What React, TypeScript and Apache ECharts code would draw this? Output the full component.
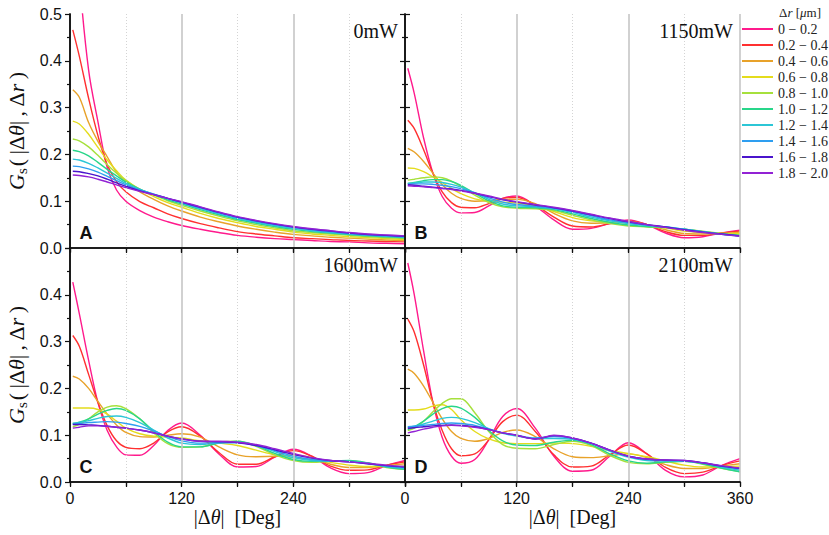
import React, { useEffect, useRef } from "react";
import * as echarts from "echarts";

// Angular separation |Δθ| in degrees (shared sample positions)
const DEG = [3, 10, 20, 30, 40, 50, 60, 75, 90, 105, 120, 140, 160, 180, 200, 220, 240, 260, 280, 300, 320, 340, 360];

const RANGES = ["0 − 0.2", "0.2 − 0.4", "0.4 − 0.6", "0.6 − 0.8", "0.8 − 1.0", "1.0 − 1.2", "1.2 − 1.4", "1.4 − 1.6", "1.6 − 1.8", "1.8 − 2.0"];
const COLORS = ["#ff1a8c", "#ff3030", "#e8a22a", "#e4dc1c", "#a6e03c", "#28d68a", "#2cc6d6", "#2e9ef0", "#4a14cc", "#9222d4"];

const PANEL_TITLES = ["0mW", "1150mW", "1600mW", "2100mW"];
const PANEL_LETTERS = ["A", "B", "C", "D"];
const X_TICKS = [0, 120, 240, 360];
const Y_TICKS = [0, 0.1, 0.2, 0.3, 0.4, 0.5];

// Panel A — 0 mW
const A0 = [0.80, 0.58, 0.38, 0.27, 0.172, 0.124, 0.1, 0.08, 0.066, 0.056, 0.048, 0.04, 0.033, 0.027, 0.023, 0.02, 0.018, 0.016, 0.014, 0.013, 0.011, 0.01, 0.009];
const A1 = [0.466, 0.41, 0.32, 0.24, 0.178, 0.142, 0.12, 0.099, 0.086, 0.073, 0.063, 0.052, 0.043, 0.035, 0.03, 0.026, 0.022, 0.02, 0.018, 0.016, 0.015, 0.014, 0.013];
const A2 = [0.338, 0.322, 0.268, 0.228, 0.195, 0.162, 0.14, 0.12, 0.104, 0.09, 0.079, 0.066, 0.056, 0.047, 0.04, 0.034, 0.029, 0.026, 0.023, 0.021, 0.019, 0.017, 0.016];
const A3 = [0.271, 0.265, 0.243, 0.215, 0.188, 0.165, 0.145, 0.125, 0.11, 0.097, 0.087, 0.074, 0.063, 0.054, 0.046, 0.04, 0.034, 0.03, 0.027, 0.024, 0.022, 0.02, 0.018];
const A4 = [0.233, 0.229, 0.216, 0.198, 0.178, 0.16, 0.144, 0.126, 0.113, 0.101, 0.091, 0.079, 0.068, 0.058, 0.05, 0.043, 0.037, 0.033, 0.03, 0.027, 0.024, 0.022, 0.02];
const A5 = [0.209, 0.206, 0.197, 0.183, 0.168, 0.154, 0.141, 0.126, 0.114, 0.103, 0.094, 0.082, 0.071, 0.061, 0.053, 0.046, 0.04, 0.035, 0.032, 0.029, 0.026, 0.024, 0.022];
const A6 = [0.19, 0.188, 0.181, 0.171, 0.16, 0.149, 0.138, 0.125, 0.115, 0.105, 0.096, 0.084, 0.073, 0.063, 0.055, 0.048, 0.042, 0.037, 0.033, 0.03, 0.027, 0.025, 0.023];
const A7 = [0.175, 0.174, 0.169, 0.162, 0.153, 0.144, 0.135, 0.124, 0.115, 0.106, 0.097, 0.086, 0.075, 0.065, 0.057, 0.05, 0.044, 0.039, 0.035, 0.031, 0.028, 0.026, 0.024];
const A8 = [0.164, 0.163, 0.159, 0.154, 0.147, 0.139, 0.132, 0.122, 0.114, 0.106, 0.098, 0.087, 0.076, 0.066, 0.058, 0.051, 0.045, 0.04, 0.036, 0.032, 0.029, 0.027, 0.025];
const A9 = [0.156, 0.155, 0.152, 0.147, 0.141, 0.135, 0.129, 0.121, 0.114, 0.106, 0.099, 0.088, 0.077, 0.067, 0.059, 0.052, 0.046, 0.041, 0.037, 0.033, 0.03, 0.028, 0.026];

// Panel B — 1150 mW
const B0 = [0.384, 0.33, 0.235, 0.16, 0.11, 0.085, 0.075, 0.076, 0.09, 0.106, 0.111, 0.09, 0.06, 0.04, 0.042, 0.052, 0.06, 0.05, 0.032, 0.022, 0.024, 0.032, 0.038];
const B1 = [0.273, 0.255, 0.21, 0.16, 0.12, 0.097, 0.087, 0.086, 0.095, 0.106, 0.108, 0.092, 0.066, 0.047, 0.045, 0.052, 0.058, 0.05, 0.035, 0.027, 0.027, 0.032, 0.036];
const B2 = [0.213, 0.205, 0.185, 0.16, 0.135, 0.117, 0.106, 0.1, 0.101, 0.104, 0.104, 0.095, 0.074, 0.058, 0.053, 0.054, 0.056, 0.05, 0.039, 0.031, 0.03, 0.031, 0.034];
const B3 = [0.171, 0.17, 0.163, 0.152, 0.14, 0.127, 0.116, 0.105, 0.1, 0.098, 0.096, 0.09, 0.078, 0.065, 0.058, 0.055, 0.053, 0.049, 0.043, 0.036, 0.033, 0.031, 0.031];
const B4 = [0.145, 0.147, 0.15, 0.152, 0.15, 0.143, 0.132, 0.113, 0.097, 0.088, 0.085, 0.084, 0.08, 0.07, 0.06, 0.052, 0.047, 0.045, 0.043, 0.04, 0.036, 0.031, 0.028];
const B5 = [0.138, 0.14, 0.144, 0.146, 0.146, 0.142, 0.134, 0.117, 0.101, 0.09, 0.087, 0.086, 0.082, 0.073, 0.063, 0.055, 0.049, 0.046, 0.044, 0.04, 0.035, 0.03, 0.027];
const B6 = [0.138, 0.139, 0.141, 0.141, 0.14, 0.136, 0.13, 0.118, 0.104, 0.094, 0.09, 0.088, 0.084, 0.076, 0.066, 0.058, 0.052, 0.048, 0.045, 0.04, 0.034, 0.029, 0.025];
const B7 = [0.137, 0.137, 0.137, 0.136, 0.134, 0.131, 0.127, 0.118, 0.107, 0.098, 0.093, 0.089, 0.085, 0.078, 0.069, 0.06, 0.054, 0.049, 0.045, 0.04, 0.035, 0.03, 0.026];
const B8 = [0.135, 0.134, 0.132, 0.13, 0.128, 0.126, 0.123, 0.117, 0.11, 0.103, 0.098, 0.092, 0.086, 0.079, 0.071, 0.063, 0.056, 0.05, 0.045, 0.039, 0.034, 0.03, 0.026];
const B9 = [0.133, 0.132, 0.131, 0.129, 0.127, 0.125, 0.122, 0.117, 0.111, 0.104, 0.099, 0.093, 0.087, 0.08, 0.072, 0.064, 0.057, 0.05, 0.044, 0.038, 0.033, 0.029, 0.025];

// Panel C — 1600 mW
const C0 = [0.427, 0.36, 0.26, 0.17, 0.11, 0.075, 0.058, 0.057, 0.078, 0.11, 0.126, 0.1, 0.06, 0.032, 0.033, 0.053, 0.07, 0.055, 0.03, 0.018, 0.02, 0.035, 0.046];
const C1 = [0.313, 0.29, 0.23, 0.17, 0.12, 0.088, 0.074, 0.071, 0.083, 0.107, 0.118, 0.098, 0.063, 0.038, 0.038, 0.054, 0.067, 0.055, 0.034, 0.025, 0.026, 0.036, 0.043];
const C2 = [0.226, 0.22, 0.2, 0.172, 0.145, 0.122, 0.106, 0.097, 0.096, 0.1, 0.103, 0.096, 0.075, 0.058, 0.054, 0.055, 0.058, 0.052, 0.038, 0.031, 0.031, 0.035, 0.039];
const C3 = [0.158, 0.158, 0.158, 0.155, 0.145, 0.13, 0.115, 0.103, 0.098, 0.096, 0.094, 0.088, 0.083, 0.078, 0.068, 0.058, 0.052, 0.048, 0.042, 0.036, 0.033, 0.033, 0.034];
const C4 = [0.118, 0.123, 0.135, 0.15, 0.16, 0.163, 0.157, 0.135, 0.105, 0.082, 0.074, 0.075, 0.085, 0.087, 0.076, 0.058, 0.046, 0.042, 0.044, 0.045, 0.04, 0.031, 0.027];
const C5 = [0.125, 0.128, 0.135, 0.145, 0.153, 0.157, 0.153, 0.135, 0.108, 0.085, 0.075, 0.075, 0.083, 0.087, 0.078, 0.061, 0.048, 0.044, 0.045, 0.046, 0.041, 0.032, 0.027];
const C6 = [0.125, 0.127, 0.131, 0.136, 0.14, 0.141, 0.138, 0.127, 0.111, 0.094, 0.083, 0.08, 0.084, 0.085, 0.078, 0.065, 0.052, 0.046, 0.045, 0.044, 0.04, 0.033, 0.029];
const C7 = [0.124, 0.125, 0.127, 0.128, 0.129, 0.128, 0.125, 0.119, 0.109, 0.097, 0.088, 0.083, 0.084, 0.084, 0.078, 0.067, 0.055, 0.048, 0.045, 0.043, 0.039, 0.034, 0.031];
const C8 = [0.123, 0.123, 0.122, 0.121, 0.119, 0.117, 0.115, 0.111, 0.105, 0.098, 0.092, 0.087, 0.086, 0.084, 0.078, 0.069, 0.059, 0.051, 0.046, 0.043, 0.039, 0.035, 0.032];
const C9 = [0.115, 0.117, 0.12, 0.12, 0.119, 0.117, 0.115, 0.111, 0.105, 0.098, 0.092, 0.087, 0.087, 0.085, 0.08, 0.071, 0.061, 0.052, 0.046, 0.043, 0.04, 0.036, 0.033];

// Panel D — 2100 mW
const D0 = [0.468, 0.4, 0.28, 0.17, 0.095, 0.055, 0.04, 0.048, 0.09, 0.14, 0.157, 0.115, 0.055, 0.023, 0.025, 0.055, 0.084, 0.06, 0.025, 0.011, 0.015, 0.035, 0.05];
const D1 = [0.348, 0.32, 0.25, 0.17, 0.11, 0.071, 0.056, 0.06, 0.09, 0.129, 0.143, 0.108, 0.058, 0.032, 0.034, 0.058, 0.079, 0.06, 0.031, 0.018, 0.021, 0.035, 0.045];
const D2 = [0.241, 0.232, 0.205, 0.17, 0.135, 0.108, 0.093, 0.087, 0.093, 0.106, 0.111, 0.097, 0.071, 0.054, 0.052, 0.056, 0.06, 0.052, 0.037, 0.029, 0.029, 0.034, 0.039];
const D3 = [0.154, 0.154, 0.156, 0.162, 0.165, 0.155, 0.133, 0.108, 0.092, 0.084, 0.082, 0.082, 0.083, 0.082, 0.076, 0.067, 0.061, 0.054, 0.045, 0.036, 0.032, 0.033, 0.034];
const D4 = [0.11, 0.115, 0.13, 0.15, 0.168, 0.178, 0.178, 0.148, 0.108, 0.08, 0.072, 0.071, 0.08, 0.087, 0.078, 0.057, 0.042, 0.039, 0.042, 0.044, 0.038, 0.029, 0.022];
const D5 = [0.112, 0.118, 0.13, 0.145, 0.157, 0.162, 0.158, 0.138, 0.11, 0.088, 0.079, 0.078, 0.085, 0.089, 0.08, 0.06, 0.045, 0.04, 0.043, 0.044, 0.039, 0.03, 0.022];
const D6 = [0.117, 0.119, 0.124, 0.13, 0.136, 0.138, 0.136, 0.127, 0.114, 0.104, 0.098, 0.093, 0.093, 0.091, 0.082, 0.066, 0.053, 0.046, 0.045, 0.045, 0.04, 0.032, 0.025];
const D7 = [0.118, 0.119, 0.121, 0.123, 0.125, 0.126, 0.125, 0.121, 0.113, 0.105, 0.1, 0.094, 0.097, 0.093, 0.083, 0.068, 0.055, 0.048, 0.046, 0.045, 0.041, 0.034, 0.028];
const D8 = [0.115, 0.116, 0.118, 0.12, 0.121, 0.122, 0.121, 0.118, 0.112, 0.105, 0.1, 0.092, 0.099, 0.094, 0.083, 0.068, 0.055, 0.049, 0.047, 0.046, 0.041, 0.034, 0.029];
const D9 = [0.105, 0.108, 0.113, 0.117, 0.12, 0.121, 0.12, 0.117, 0.112, 0.105, 0.1, 0.092, 0.1, 0.094, 0.083, 0.068, 0.055, 0.049, 0.047, 0.046, 0.041, 0.035, 0.03];

const PANELS = [
  [A0, A1, A2, A3, A4, A5, A6, A7, A8, A9],
  [B0, B1, B2, B3, B4, B5, B6, B7, B8, B9],
  [C0, C1, C2, C3, C4, C5, C6, C7, C8, C9],
  [D0, D1, D2, D3, D4, D5, D6, D7, D8, D9],
];

const SERIF = "'Liberation Serif', 'Times New Roman', serif";
const SANS = "'Liberation Sans', Arial, sans-serif";
const AXIS_COLOR = "#111";

export default function App() {
  const ref = useRef<HTMLDivElement>(null);

  useEffect(() => {
    if (!ref.current) return;
    const chart = echarts.init(ref.current, null, { renderer: "svg" });

    const L = 70, W = 335, T = 14, H = 234;
    const grids = [
      { left: L, top: T, width: W, height: H },
      { left: L + W, top: T, width: W, height: H },
      { left: L, top: T + H, width: W, height: H },
      { left: L + W, top: T + H, width: W, height: H },
    ];

    const yName = {
      name: "{i|G}{sub|s}{n|(\u2009|Δ}{i|θ}{n||\u2009,\u2009Δ}{i|r}{n|\u2009)}",
      nameLocation: "middle" as const,
      nameGap: 41,
      nameRotate: 90,
      nameTextStyle: {
        color: "#111",
        rich: {
          i: { fontFamily: SERIF, fontStyle: "italic", fontSize: 22, color: "#111" },
          n: { fontFamily: SERIF, fontSize: 22, color: "#111" },
          sub: { fontFamily: SERIF, fontSize: 15, color: "#111", padding: [10, 2, 0, 0] },
        },
      },
    };
    const xName = {
      name: "{n||Δ}{i|θ}{n||  [Deg]}",
      nameLocation: "middle" as const,
      nameGap: 23,
      nameTextStyle: {
        color: "#111",
        verticalAlign: "top",
        rich: {
          i: { fontFamily: SERIF, fontStyle: "italic", fontSize: 20, color: "#111" },
          n: { fontFamily: SERIF, fontSize: 20, color: "#111" },
        },
      },
    };

    const xAxes: any[] = [];
    const yAxes: any[] = [];
    for (let p = 0; p < 4; p++) {
      const bottomRow = p >= 2;
      xAxes.push({
        type: "value",
        gridIndex: p,
        min: X_TICKS[0],
        max: X_TICKS[X_TICKS.length - 1],
        interval: X_TICKS[1] - X_TICKS[0],
        position: "bottom",
        axisLine: { show: true, lineStyle: { color: AXIS_COLOR, width: 1.5 } },
        axisTick: { show: true, inside: false, length: 5, lineStyle: { color: AXIS_COLOR, width: 1.2 } },
        minorTick: { show: true, splitNumber: 2, length: 5, lineStyle: { color: AXIS_COLOR, width: 1.2 } },
        splitLine: { show: true, lineStyle: { color: "#c6c6c6", width: 1.6 } },
        minorSplitLine: { show: true, lineStyle: { color: "#d4d4d4", width: 1, type: [1, 2] } },
        axisLabel: {
          show: bottomRow,
          fontSize: 16,
          fontFamily: SANS,
          color: "#111",
          margin: 8,
          formatter: (v: number) => (p === 2 && v === 360 ? "" : String(v)),
        },
        ...(bottomRow ? xName : {}),
        z: 3,
      });
      yAxes.push({
        type: "value",
        gridIndex: p,
        min: Y_TICKS[0],
        max: Y_TICKS[Y_TICKS.length - 1],
        interval: Y_TICKS[1] - Y_TICKS[0],
        position: "left",
        axisLine: { show: true, lineStyle: { color: AXIS_COLOR, width: 1.5 } },
        axisTick: { show: true, inside: false, length: 5, lineStyle: { color: AXIS_COLOR, width: 1.2 } },
        minorTick: { show: true, splitNumber: 2, length: 3, lineStyle: { color: AXIS_COLOR, width: 1.2 } },
        splitLine: { show: false },
        axisLabel: {
          show: p === 0 || p === 2,
          fontSize: 16,
          fontFamily: SANS,
          color: "#111",
          margin: 8,
          formatter: (v: number) => (p === 2 && v >= 0.5 ? "" : v.toFixed(1)),
        },
        ...(p === 0 || p === 2 ? yName : {}),
        z: 3,
      });
    }
    // frame: top and right axes
    for (let p = 0; p < 4; p++) {
      xAxes.push({
        type: "value",
        gridIndex: p,
        min: 0,
        max: 360,
        interval: 60,
        position: "top",
        axisLine: { show: true, lineStyle: { color: AXIS_COLOR, width: 1.5 } },
        axisTick: { show: true, inside: true, length: 4, lineStyle: { color: AXIS_COLOR, width: 1.2 } },
        axisLabel: { show: false },
        splitLine: { show: false },
        z: 3,
      });
      const rightCol = p === 1 || p === 3;
      yAxes.push({
        type: "value",
        gridIndex: p,
        min: 0,
        max: 0.5,
        interval: 0.1,
        position: "right",
        axisLine: { show: true, lineStyle: { color: AXIS_COLOR, width: 1.5 } },
        axisTick: { show: rightCol, inside: false, length: 5, lineStyle: { color: AXIS_COLOR, width: 1.2 } },
        minorTick: { show: rightCol, splitNumber: 2, length: 3, lineStyle: { color: AXIS_COLOR, width: 1.2 } },
        axisLabel: { show: false },
        splitLine: { show: false },
        z: 3,
      });
    }

    const series: any[] = [];
    PANELS.forEach((panel, p) => {
      panel.forEach((vals, k) => {
        series.push({
          type: "line",
          name: RANGES[k],
          xAxisIndex: p,
          yAxisIndex: p,
          data: DEG.map((d, i) => [d, vals[i]]),
          smooth: 0.35,
          symbol: "none",
          showSymbol: false,
          clip: true,
          color: COLORS[k],
          lineStyle: { color: COLORS[k], width: 1.4 },
          z: 2,
        });
      });
    });

    const graphics: any[] = [];
    PANEL_TITLES.forEach((t, p) => {
      const g = grids[p];
      graphics.push({
        type: "text",
        x: g.left + g.width - 7,
        y: g.top + 17,
        style: { text: t, fontFamily: SERIF, fontSize: 20, fill: "#111", textAlign: "right", textVerticalAlign: "middle" },
        z: 10,
      });
      graphics.push({
        type: "text",
        x: g.left + 16,
        y: g.top + g.height - 15,
        style: { text: PANEL_LETTERS[p], fontFamily: SANS, fontWeight: "bold", fontSize: 18, fill: "#111", textAlign: "center", textVerticalAlign: "middle" },
        z: 10,
      });
    });
    graphics.push({
      type: "text",
      x: 800,
      y: 12,
      style: {
        text: "{n|Δ}{i|r}{n| [}{i|μ}{n|m]}",
        textAlign: "center",
        textVerticalAlign: "middle",
        rich: {
          n: { fontFamily: SERIF, fontSize: 13, fill: "#222" },
          i: { fontFamily: SERIF, fontStyle: "italic", fontSize: 13, fill: "#222" },
        },
      },
      z: 10,
    });

    chart.setOption({
      animation: false,
      backgroundColor: "#fff",
      grid: grids,
      xAxis: xAxes,
      yAxis: yAxes,
      series,
      legend: {
        data: RANGES,
        orient: "vertical",
        left: 742,
        top: 22,
        icon: "rect",
        itemWidth: 31,
        itemHeight: 2,
        itemGap: 2,
        padding: 0,
        selectedMode: false,
        textStyle: { fontFamily: SERIF, fontSize: 14, color: "#222", lineHeight: 14 },
      },
      graphic: graphics,
    });

    return () => chart.dispose();
  }, []);

  return (
    <div
      ref={ref}
      style={{ position: "fixed", left: 0, top: 0, width: 829, height: 535, background: "#fff" }}
    />
  );
}
